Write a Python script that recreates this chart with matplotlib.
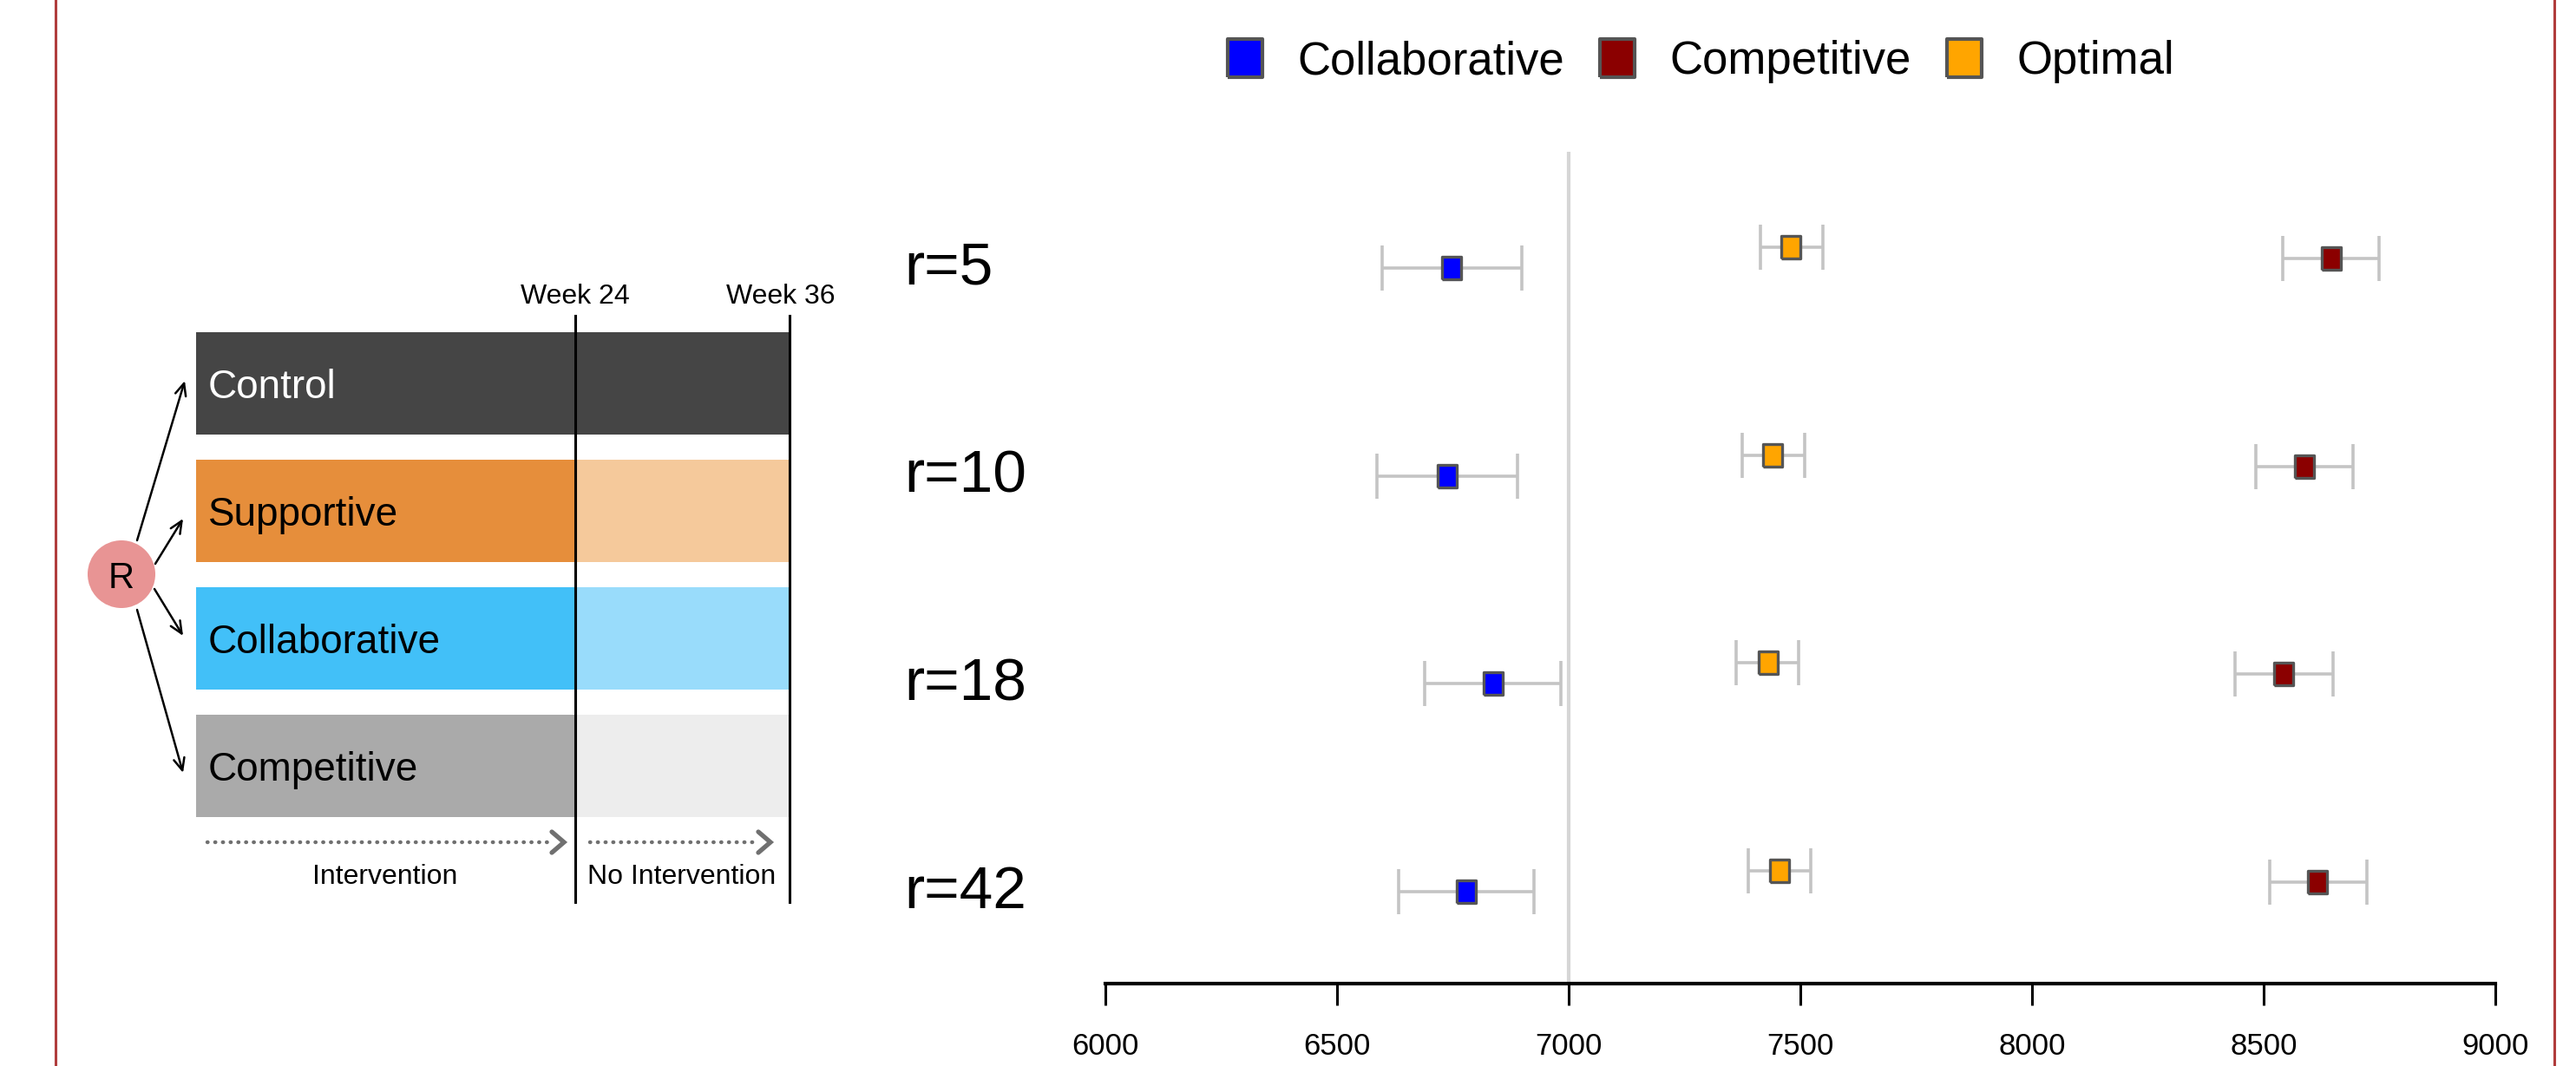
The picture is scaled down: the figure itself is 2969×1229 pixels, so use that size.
import matplotlib
matplotlib.use("Agg")
import matplotlib.pyplot as plt
import matplotlib.transforms as mtransforms
from matplotlib.patches import Rectangle, Ellipse
from matplotlib.lines import Line2D
import numpy as np

# ---------------- data ----------------
rows = ["r=5", "r=10", "r=18", "r=42"]
series = ["Collaborative", "Competitive", "Optimal"]
collab_mean = [6747, 6737, 6837, 6779]
collab_lo = [6597, 6586, 6689, 6633]
collab_hi = [6898, 6889, 6983, 6925]
comp_mean = [8646, 8588, 8543, 8617]
comp_lo = [8542, 8484, 8439, 8514]
comp_hi = [8749, 8693, 8650, 8723]
opt_mean = [7480, 7441, 7430, 7455]
opt_lo = [7413, 7374, 7361, 7387]
opt_hi = [7548, 7510, 7497, 7523]
xticks = [6000, 6500, 7000, 7500, 8000, 8500, 9000]
ref_x = 7000

arms = ["Control", "Supportive", "Collaborative", "Competitive"]
arm_dark = ["#454545", "#E68E3B", "#42C0F8", "#AAAAAA"]
arm_light = ["#454545", "#F5C99B", "#99DCFB", "#EDEDED"]
arm_text = ["white", "black", "black", "black"]
week_labels = ["Week 24", "Week 36"]
phase_labels = ["Intervention", "No Intervention"]

# ---------------- figure ----------------
W, H = 2969, 1229
fig = plt.figure(figsize=(W / 100, H / 100), dpi=100)
REG = ["Liberation Sans", "DejaVu Sans"]

ax0 = fig.add_axes([0, 0, 1, 1], zorder=0)
ax0.set_xlim(0, W)
ax0.set_ylim(H, 0)
ax0.axis("off")

# page border lines
for xb in (64, 2944):
    ax0.axvline(xb, color="#B03C3C", lw=2.2)

# ---------------- left schematic ----------------
bx0, bsplit, bx1 = 226, 663, 910
btop0, bh, bstep = 383, 118, 147
for i, name in enumerate(arms):
    top = btop0 + i * bstep
    ax0.add_patch(Rectangle((bx0, top), bsplit - bx0, bh, color=arm_dark[i], lw=0))
    ax0.add_patch(Rectangle((bsplit, top), bx1 - bsplit, bh, color=arm_light[i], lw=0))
    ax0.text(240, top + bh / 2 + 17, name, color=arm_text[i], fontsize=33,
             family=REG, ha="left", va="baseline")

for xw, lab, xl in zip((bsplit, bx1), week_labels, (663, 900)):
    ax0.plot([xw, xw], [364, 1040], color="black", lw=2.2)
    ax0.text(xl, 350, lab, fontsize=23, family=REG, ha="center", va="baseline")

# randomisation circle
cx, cy = 140, 662
ax0.add_patch(Ellipse((cx, cy), 78, 78, color="#E89494", lw=0))
ax0.text(cx, cy + 16, "R", fontsize=30, family=REG, ha="center", va="baseline")
starts = [(158, 623), (179, 650), (178, 679), (158, 703)]
ends = [(213, 439), (211, 598), (211, 733), (211, 891)]
for s, e in zip(starts, ends):
    ax0.annotate("", xy=e, xytext=s,
                 arrowprops=dict(arrowstyle="->,head_length=1.0,head_width=0.45",
                                 lw=1.8, color="black", shrinkA=0, shrinkB=0))

# dotted phase arrows
for (xa, xb2), lab, xc in zip(((239, 636), (680, 874)), phase_labels, (444, 786)):
    ax0.plot([xa, xb2], [971, 971], color="#707070", lw=3.2,
             dashes=(0.1, 1.9), dash_capstyle="round")
    ax0.plot([xb2, xb2 + 14, xb2], [959, 971, 983], color="#707070",
             lw=3.8, solid_capstyle="round", solid_joinstyle="miter")
    ax0.text(xc, 1019, lab, fontsize=23, family=REG, ha="center", va="baseline")

# ---------------- forest plot ----------------
ax = fig.add_axes([1274 / W, 1 - 1134 / H, (2876 - 1274) / W, (1134 - 175) / H], zorder=1)
ax.patch.set_alpha(0)
ax.set_xlim(6000, 9000)
ax.set_ylim(3.442, -0.558)

rect = [(-0.44, -0.5), (0.44, -0.5), (0.44, 0.5), (-0.44, 0.5), (-0.44, -0.5)]
ypos = np.arange(len(rows))
groups = [
    (collab_mean, collab_lo, collab_hi, "#0000FF", 0.0),
    (comp_mean, comp_lo, comp_hi, "#8B0000", -0.045),
    (opt_mean, opt_lo, opt_hi, "#FFA500", -0.10),
]
ax.axvline(ref_x, color="#D6D6D6", lw=3.0, zorder=1)
handles = []
for (m, lo, hi, col, off), name in zip(groups, series):
    m = np.array(m, float)
    lo = np.array(lo, float)
    hi = np.array(hi, float)
    y = ypos + off
    ax.errorbar(m, y, xerr=[m - lo, hi - m], fmt="none", ecolor="#C4C4C4",
                elinewidth=2.6, capsize=18.4, capthick=2.6, zorder=2)
    ax.plot(m, y, ls="none", marker=rect, ms=18.5, mfc=col, mec="#555555",
            mew=2.4, zorder=3)
    handles.append(Line2D([], [], ls="none", marker=rect, ms=32, mfc=col,
                          mec="#555555", mew=3))

for s in ("top", "right", "left"):
    ax.spines[s].set_visible(False)
ax.spines["bottom"].set_linewidth(3.0)
ax.spines["bottom"].set_bounds(6000, 9000)
ax.set_yticks([])
ax.set_xticks(xticks)
ax.set_xticklabels([str(t) for t in xticks], fontsize=25, family=REG)
ax.tick_params(axis="x", length=18, width=2.2, pad=22, direction="out")

trans = mtransforms.blended_transform_factory(fig.transFigure, ax.transData)
for i, lab in enumerate(rows):
    ax.text(1042 / W, i + 0.08, lab, transform=trans, fontsize=50, family=REG,
            ha="left", va="baseline")

leg = fig.legend(handles, series, loc="center", bbox_to_anchor=(1960 / W, 1 - 71 / H),
                 ncol=3, frameon=False, handlelength=0.8, handletextpad=0.75,
                 columnspacing=0.75, prop={"family": REG, "size": 38})

fig.savefig("out.png", dpi=100)
